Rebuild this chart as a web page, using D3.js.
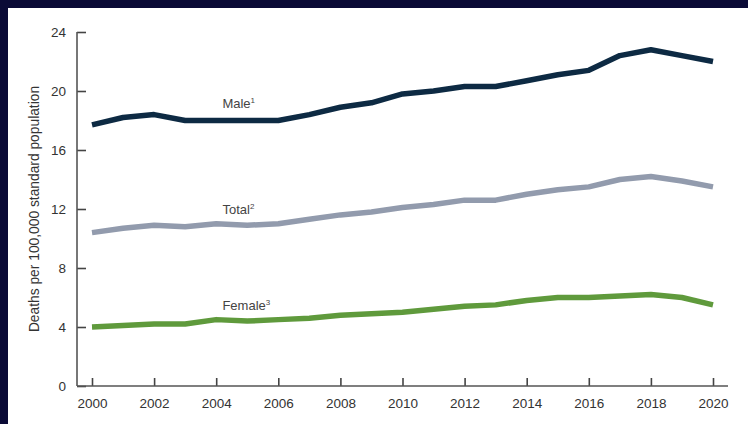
<!DOCTYPE html>
<html>
<head>
<meta charset="utf-8">
<script src="https://cdn.jsdelivr.net/npm/d3@7.9.0/dist/d3.min.js"></script>
<style>
  html, body { margin: 0; padding: 0; background: #0a0a36; }
  svg { display: block; }
  text { font-family: "Liberation Sans", Arial, sans-serif; }
</style>
</head>
<body>
<div id="chart"></div>
<script>
// years on the x axis
const years = d3.range(2000, 2021);

// deaths per 100,000 standard population
const male   = [17.7, 18.2, 18.4, 18.0, 18.0, 18.0, 18.0, 18.4, 18.9, 19.2, 19.8,
                20.0, 20.3, 20.3, 20.7, 21.1, 21.4, 22.4, 22.8, 22.4, 22.0];
const total  = [10.4, 10.7, 10.9, 10.8, 11.0, 10.9, 11.0, 11.3, 11.6, 11.8, 12.1,
                12.3, 12.6, 12.6, 13.0, 13.3, 13.5, 14.0, 14.2, 13.9, 13.5];
const female = [4.0, 4.1, 4.2, 4.2, 4.5, 4.4, 4.5, 4.6, 4.8, 4.9, 5.0,
                5.2, 5.4, 5.5, 5.8, 6.0, 6.0, 6.1, 6.2, 6.0, 5.5];

const seriesNames = ['Male', 'Total', 'Female'];
const footnotes = ['1', '2', '3'];
const yTicks = [0, 4, 8, 12, 16, 20, 24];
const xTicks = d3.range(2000, 2021, 2);

const width = 748, height = 424;
const margin = { top: 32, right: 35, bottom: 38, left: 92 };

const svg = d3.select('#chart')
  .append('svg')
  .attr('width', width)
  .attr('height', height);

// white panel inside the dark frame
svg.append('rect')
  .attr('x', 8).attr('y', 8)
  .attr('width', width - 8).attr('height', height - 8)
  .attr('fill', '#ffffff');

const x = d3.scaleLinear()
  .domain([2000, 2020])
  .range([margin.left, width - margin.right]);

const y = d3.scaleLinear()
  .domain([0, 24])
  .range([height - margin.bottom, margin.top]);

const axisX0 = x.range()[0] - 15;   // where the y axis sits
const axisX1 = x.range()[1] + 15;

// Y axis
const yAxis = d3.axisLeft(y)
  .tickValues(yTicks)
  .tickSize(-9)
  .tickPadding(11)
  .tickFormat(d3.format('d'));

const gy = svg.append('g')
  .attr('transform', `translate(${axisX0},0)`)
  .call(yAxis);
gy.select('.domain').remove();
gy.append('line')
  .attr('x1', 0).attr('x2', 0)
  .attr('y1', y(0)).attr('y2', y(24))
  .attr('stroke', '#555').attr('stroke-width', 1.6);

// X axis
const xAxis = d3.axisBottom(x)
  .tickValues(xTicks)
  .tickSize(-8)
  .tickPadding(12)
  .tickFormat(d3.format('d'));

const gx = svg.append('g')
  .attr('transform', `translate(0,${y(0)})`)
  .call(xAxis);
gx.select('.domain').remove();
gx.append('line')
  .attr('x1', axisX0).attr('x2', axisX1)
  .attr('y1', 0).attr('y2', 0)
  .attr('stroke', '#555').attr('stroke-width', 1.6);

[gx, gy].forEach(g => {
  g.selectAll('.tick line').attr('stroke', '#444').attr('stroke-width', 1.6);
  g.selectAll('.tick text')
    .attr('fill', '#333')
    .style('font-size', '13.5px')
    .style('font-family', '"Liberation Sans", Arial, sans-serif');
});

// y axis title
svg.append('text')
  .attr('transform', `translate(39,${(y(0) + y(24)) / 2}) rotate(-90)`)
  .attr('text-anchor', 'middle')
  .attr('fill', '#333')
  .style('font-size', '13.8px')
  .text('Deaths per 100,000 standard population');

// lines
const series = [
  { name: seriesNames[0], note: footnotes[0], values: male,   color: '#0d2a43', labelYear: 2004.2, gap: 13 },
  { name: seriesNames[1], note: footnotes[1], values: total,  color: '#929bad', labelYear: 2004.2, gap: 10 },
  { name: seriesNames[2], note: footnotes[2], values: female, color: '#5f9a3c', labelYear: 2004.2, gap: 10 }
];

const line = d3.line()
  .x((d, i) => x(years[i]))
  .y(d => y(d));

svg.append('g')
  .selectAll('path')
  .data(series)
  .join('path')
  .attr('d', d => line(d.values))
  .attr('fill', 'none')
  .attr('stroke', d => d.color)
  .attr('stroke-width', 5.5)
  .attr('stroke-linejoin', 'round');

// series labels
const labels = svg.append('g')
  .selectAll('text')
  .data(series)
  .join('text')
  .attr('x', d => x(d.labelYear))
  .attr('y', d => y(d.values[4]) - d.gap)
  .attr('fill', '#444')
  .style('font-size', '13px');

labels.append('tspan').text(d => d.name);
labels.append('tspan')
  .attr('dy', -5)
  .style('font-size', '8px')
  .text(d => d.note);
</script>
</body>
</html>
